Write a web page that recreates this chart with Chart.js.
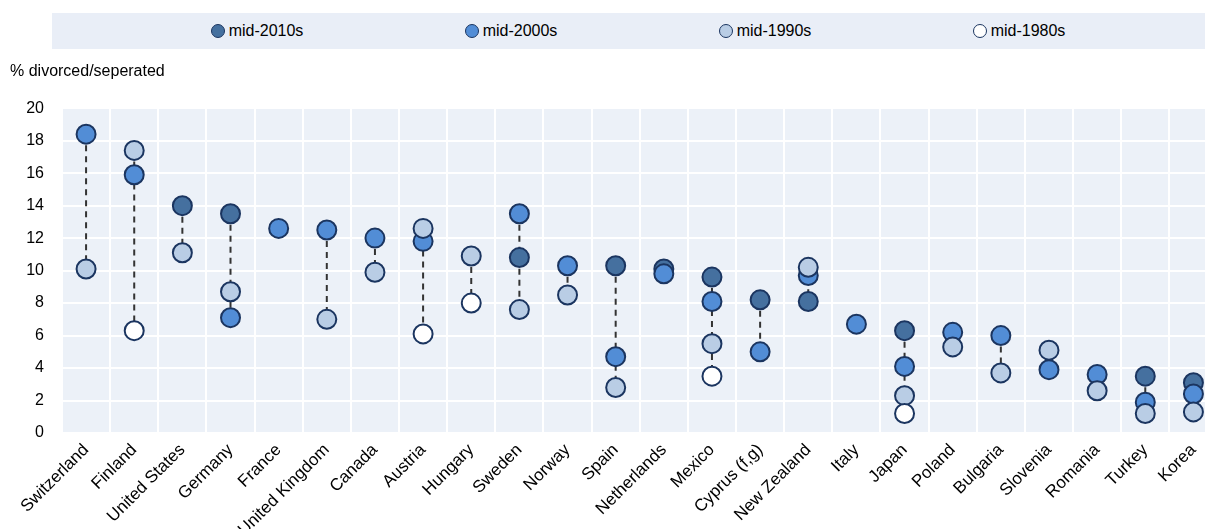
<!DOCTYPE html>
<html>
<head>
<meta charset="utf-8">
<script src="https://cdn.jsdelivr.net/npm/chart.js@4.4.1/dist/chart.umd.min.js"></script>
<style>
  html, body { margin: 0; padding: 0; background: #fff; overflow: hidden; }
  body { width: 1205px; height: 529px; }
  #wrap { position: relative; width: 1229px; height: 529px; }
  #legend {
    position: absolute; left: 52px; top: 13px; width: 1153px; height: 36px;
    background: #e9eef7; display: flex; align-items: center; padding-left: 78px; box-sizing: border-box;
    font: 16px "Liberation Sans", Arial, sans-serif; color: #000;
  }
  #legend .item { width: 254px; display: flex; justify-content: center; align-items: center; }
  #legend .dot {
    width: 12px; height: 12px; border-radius: 50%; border: 1.5px solid #1b3560; margin-right: 4px;
  }
</style>
</head>
<body>
<div id="wrap">
  <canvas id="chart" width="1229" height="529"></canvas>
  <div id="legend"></div>
</div>
<script>
const categories = ['Switzerland', 'Finland', 'United States', 'Germany', 'France', 'United Kingdom',
  'Canada', 'Austria', 'Hungary', 'Sweden', 'Norway', 'Spain', 'Netherlands', 'Mexico',
  'Cyprus (f,g)', 'New Zealand', 'Italy', 'Japan', 'Poland', 'Bulgaria', 'Slovenia',
  'Romania', 'Turkey', 'Korea']

const seriesNames = ['mid-2010s', 'mid-2000s', 'mid-1990s', 'mid-1980s']

const mid2010s = [null, null, 14.0, 13.5, null, null, null, null, null, 10.8, null, 10.3,
  10.1, 9.6, 8.2, 8.1, null, 6.3, null, null, null, null, 3.5, 3.1]
const mid2000s = [18.4, 15.9, null, 7.1, 12.6, 12.5, 12.0, 11.8, null, 13.5, 10.3, 4.7,
  9.8, 8.1, 5.0, 9.7, 6.7, 4.1, 6.2, 6.0, 3.9, 3.6, 1.9, 2.4]
const mid1990s = [10.1, 17.4, 11.1, 8.7, null, 7.0, 9.9, 12.6, 10.9, 7.6, 8.5, 2.8,
  null, 5.5, null, 10.2, null, 2.3, 5.3, 3.7, 5.1, 2.6, 1.2, 1.3]
const mid1980s = [null, 6.3, null, null, null, null, null, 6.1, 8.0, null, null, null,
  null, 3.5, null, null, null, 1.2, null, null, null, null, null, null]

const yTicks = [0, 2, 4, 6, 8, 10, 12, 14, 16, 18, 20]

const colors = ['#45709f', '#528dd6', '#b9cde5', '#ffffff']
const borderColor = '#1b3560'
const fontFamily = '"Liberation Sans", Arial, sans-serif'

const allSeries = [mid2010s, mid2000s, mid1990s, mid1980s]

// legend built from the series names
const legendEl = document.getElementById('legend')
seriesNames.forEach((name, i) => {
  const item = document.createElement('div')
  item.className = 'item'
  const dot = document.createElement('span')
  dot.className = 'dot'
  dot.style.background = colors[i]
  item.appendChild(dot)
  item.appendChild(document.createTextNode(name))
  legendEl.appendChild(item)
})

const plotBackground = {
  id: 'plotBackground',
  beforeDraw(chart) {
    const { ctx, chartArea } = chart
    ctx.save()
    ctx.fillStyle = '#ecf1f8'
    ctx.fillRect(chartArea.left, chartArea.top, chartArea.right - chartArea.left, chartArea.bottom - chartArea.top)
    ctx.restore()
  },
}

// dashed connector from lowest to highest value in each category
const rangeLines = {
  id: 'rangeLines',
  beforeDatasetsDraw(chart) {
    const { ctx, scales } = chart
    ctx.save()
    ctx.strokeStyle = '#333333'
    ctx.lineWidth = 2
    ctx.setLineDash([6, 5])
    categories.forEach((cat, i) => {
      const vals = allSeries.map((s) => s[i]).filter((v) => v !== null)
      if (vals.length < 2) return
      const x = scales.x.getPixelForValue(i)
      ctx.beginPath()
      ctx.moveTo(x, scales.y.getPixelForValue(Math.max(...vals)))
      ctx.lineTo(x, scales.y.getPixelForValue(Math.min(...vals)))
      ctx.stroke()
    })
    ctx.restore()
  },
}

new Chart(document.getElementById('chart'), {
  type: 'line',
  data: {
    labels: categories,
    datasets: allSeries.map((data, i) => ({
      label: seriesNames[i],
      data: data,
      showLine: false,
      order: 4 - i,
      pointRadius: 9.5,
      pointHoverRadius: 9.5,
      pointBorderWidth: 2,
      pointBackgroundColor: colors[i],
      pointBorderColor: borderColor,
    })),
  },
  options: {
    responsive: false,
    animation: false,
    layout: { padding: { left: 10, right: 0, top: 0, bottom: 0 } },
    plugins: {
      legend: { display: false },
      tooltip: { enabled: false },
      title: {
        display: true,
        text: '% divorced/seperated',
        align: 'start',
        color: '#000',
        font: { family: fontFamily, size: 16, weight: 'normal' },
        padding: { top: 62, bottom: 27 },
      },
    },
    scales: {
      x: {
        offset: true,
        grid: { offset: true, color: '#ffffff', lineWidth: 2, drawTicks: false },
        border: { display: false },
        ticks: {
          color: '#000',
          font: { family: fontFamily, size: 17 },
          minRotation: 45,
          maxRotation: 45,
          autoSkip: false,
          padding: 7,
        },
        afterFit(scale) { scale.height = 96 },
      },
      y: {
        min: 0,
        max: 20,
        grid: { color: '#ffffff', lineWidth: 2, drawTicks: false },
        border: { display: false },
        afterBuildTicks(scale) { scale.ticks = yTicks.map((v) => ({ value: v })) },
        ticks: {
          color: '#000',
          font: { family: fontFamily, size: 16 },
          padding: 18,
        },
        afterFit(scale) { scale.width = 52 },
      },
    },
  },
  plugins: [plotBackground, rangeLines],
})
</script>
</body>
</html>
